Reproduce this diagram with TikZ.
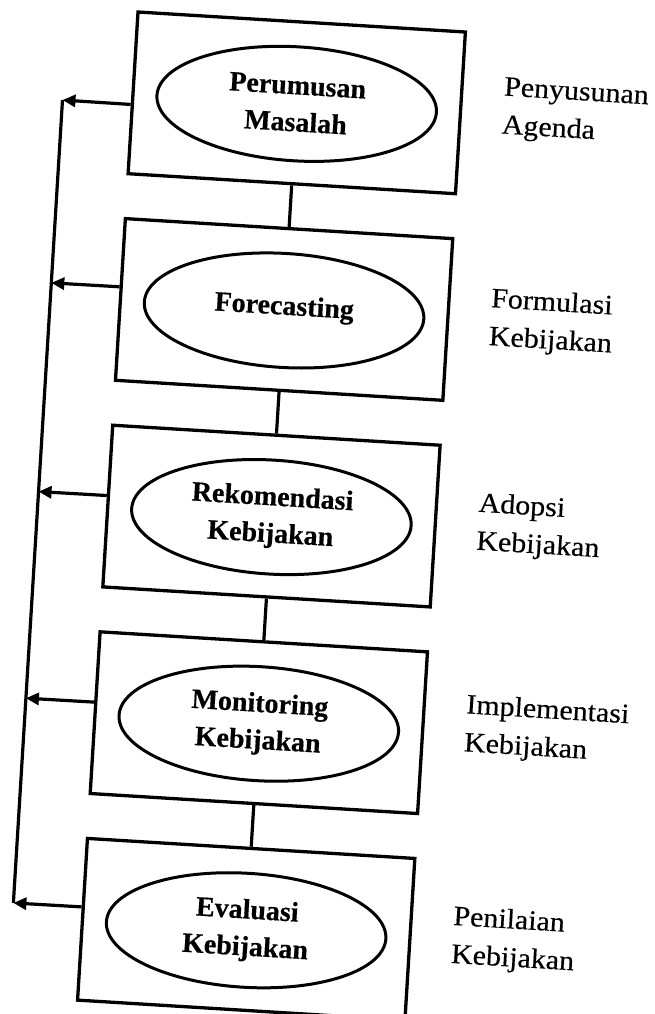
\documentclass[tikz,border=0pt]{standalone}
\usepackage{fontspec}
\setmainfont{Liberation Serif}
\newfontfamily\stagefont{Liberation Serif}[FakeStretch=1.07,FakeBold=0.4]
\newfontfamily\stepfont{Liberation Serif Bold}[FakeBold=0.5]
\usetikzlibrary{shapes.geometric,arrows.meta,calc}
\begin{document}
\begin{tikzpicture}[x=1pt,y=1pt,
  stagebox/.style={draw, line width=3.3pt, rectangle, minimum width=328pt,
    minimum height=162pt, inner sep=0pt},
  activity/.style={draw, line width=3pt, ellipse, minimum width=280pt,
    minimum height=114pt, inner sep=0pt, align=center,
    font=\stepfont\fontsize{28}{37}\selectfont},
  link/.style={line width=3.2pt},
  feedback/.style={line width=3.2pt, -{Triangle[length=13pt,width=12pt]}},
  stage/.style={anchor=base west, align=left, inner sep=0pt,
    font=\stagefont\fontsize{28}{38}\selectfont}]
\useasboundingbox (0,0) rectangle (654,-1014);
\clip (0,0) rectangle (654,-1014);
\begin{scope}[shift={(138,-12)}, rotate=-3.5, transform shape]
  % policy-analysis steps
  \node[stagebox] (b1) at (164,-81) {};
  \node[stagebox] (b2) at (164,-288) {};
  \node[stagebox] (b3) at (164,-495) {};
  \node[stagebox] (b4) at (164,-702) {};
  \node[stagebox] (b5) at (164,-909) {};

  \node[activity] (e1) at (164,-82) {Perumusan\\Masalah};
  \node[activity] (e2) at (164,-289) {\raisebox{11pt}{Forecasting}};
  \node[activity] (e3) at (164,-496) {Rekomendasi\\Kebijakan};
  \node[activity] (e4) at (164,-703) {Monitoring\\Kebijakan};
  \node[activity] (e5) at (164,-910) {Evaluasi\\Kebijakan};

  % policy-making stages (anchored at the baseline of the second line)
  \node[stage] (l1) at (370,-99) {Penyusunan\\Agenda};
  \node[stage] (l2) at (370,-311) {Formulasi\\Kebijakan};
  \node[stage] (l3) at (370,-516) {Adopsi\\Kebijakan};
  \node[stage] (l4) at (370,-718) {Implementasi\\Kebijakan};
  \node[stage] (l5) at (370,-930) {Penilaian\\Kebijakan};

  % sequence between steps
  \draw[link] (b1.south) -- (b2.north);
  \draw[link] (b2.south) -- (b3.north);
  \draw[link] (b3.south) -- (b4.north);
  \draw[link] (b4.south) -- (b5.north);

  % feedback rail on the left
  \coordinate (t1) at (-70,-92.5);
  \coordinate (t2) at (-70,-275.7);
  \coordinate (t3) at (-70,-484.8);
  \coordinate (t4) at (-70,-691.8);
  \coordinate (t5) at (-70,-897);
  \draw[link] (t1) -- (t5);
  \draw[feedback] ($(b1.north west)!0.571!(b1.south west)$) -- (t1);
  \draw[feedback] ($(b2.north west)!0.424!(b2.south west)$) -- (t2);
  \draw[feedback] ($(b3.north west)!0.437!(b3.south west)$) -- (t3);
  \draw[feedback] ($(b4.north west)!0.437!(b4.south west)$) -- (t4);
  \draw[feedback] ($(b5.north west)!0.426!(b5.south west)$) -- (t5);
\end{scope}
\end{tikzpicture}
\end{document}
